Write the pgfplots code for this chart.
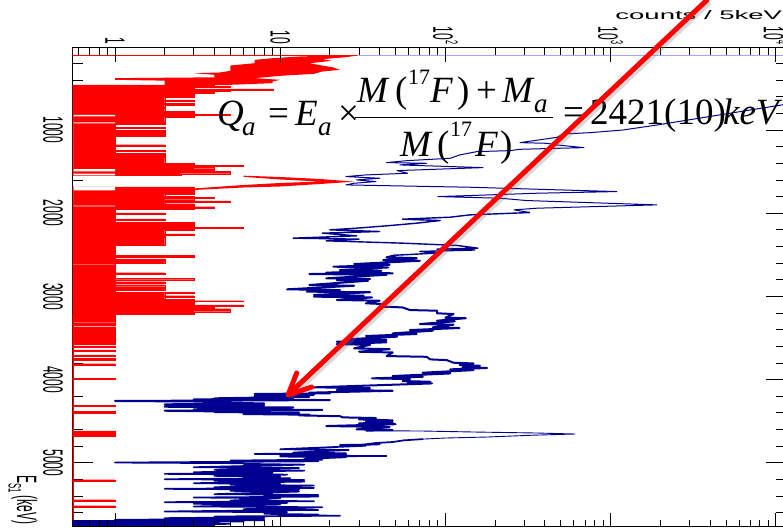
\documentclass[border=0pt]{standalone}
\usepackage{fontspec}
\usepackage{pgfplots}
\pgfplotsset{compat=1.18}
\setmainfont{Liberation Sans}
\newfontfamily\tm{Liberation Serif}
\definecolor{spb}{RGB}{0,0,145}
\newcommand{\tl}{\fontsize{28}{28}\selectfont}
\begin{document}
\begin{tikzpicture}[x=1pt,y=1pt]
\path[use as bounding box] (0,0) rectangle (783,528);
\clip (0,0) rectangle (783,528);
% frame and energy ticks
\begin{axis}[scale only axis,width=714.5pt,height=479pt,at={(72.5pt,1.3pt)},anchor=south west,
  xmode=log,xmin=0.553,xmax=11695,ymin=11,ymax=5768,y dir=reverse,
  xtick=\empty,ytick={1000,2000,3000,4000,5000},
  minor ytick={200,400,600,800,1200,1400,1600,1800,2200,2400,2600,2800,3200,3400,3600,3800,4200,4400,4600,4800,5200,5400,5600},
  major tick length=21pt,minor tick length=11pt,tick align=inside,ytick pos=both,yticklabel pos=left,
  axis line style={line width=1pt,black},tick style={black,line width=0.8pt},
  yticklabel style={xshift=-19.5pt,rotate=-90,xscale=0.43,anchor=center,font=\tl,/pgf/number format/1000 sep={},/pgf/number format/assume math mode=true}]
\end{axis}
\begin{axis}[scale only axis,width=714.5pt,height=479pt,at={(72.5pt,1.3pt)},anchor=south west,
  xmode=log,xmin=0.553,xmax=11695,ymin=11,ymax=5768,y dir=reverse,
  axis y line=none,axis x line=box,clip=true,
  xtick={1,10,100,1000,10000},xticklabels={1,10,10\raisebox{.45em}{\fontsize{17}{17}\selectfont 2},10\raisebox{.45em}{\fontsize{17}{17}\selectfont 3},10\raisebox{.45em}{\fontsize{17}{17}\selectfont 4}},
  minor xtick={.6,.7,.8,.9,2,3,4,5,6,7,8,9,20,30,40,50,60,70,80,90,200,300,400,500,600,700,800,900,2000,3000,4000,5000,6000,7000,8000,9000},
  major tick length=14pt,minor tick length=7pt,tick align=inside,xtick pos=both,xticklabel pos=right,
  axis line style={line width=1pt,black},tick style={black,line width=0.9pt},axis on top,
  xticklabel style={yshift=2pt,rotate=-90,xscale=0.43,anchor=east,font=\tl}]
% overflow line at the first bin
\addplot[color=blue!35!white,line width=0.8pt] coordinates {(29,105) (12000,105)};
% spectrum without gate (blue)
\addplot[color=spb,line width=1pt,line join=round] coordinates {
(12000,685)(1910,940)(1189,1000)(753,1032)(518,1048)(474,1088)(283,1152)(412,1160)(474,1180)(690,1212)(283,1232)(246,1248)(155,1260)(122,1300)(107,1340)(59,1368)(44,1392)(77,1400)(53,1420)(169,1452)(67,1480)(51,1488)(59,1520)(33,1540)(25,1560)(40,1580)(29,1600)(38,1620)(28,1640)(25,1660)(52,1672)(141,1688)(359,1712)(1090,1740)(359,1760)(141,1788)(90,1800)(214,1820)(311,1848)(720,1872)(1900,1900)(359,1940)(260,1960)(325,1992)};
\addplot[color=spb,line width=1.4pt,line join=round] coordinates {
(325,1992)(141,2020)(107,2048)(55,2072)(93,2088)(67,2120)(44,2152)(29,2180)(20,2200)(40,2220)(18,2240)(29,2272)(12,2300)(30,2312)(19,2332)(55,2360)(118,2388)(157,2420)(89,2432)(151,2442)(70,2460)(89,2479)(50,2505)};
\addplot[color=spb,line width=2pt,line join=round] coordinates {
(50,2505)(44,2530)(67,2540)(42,2563)(70,2572)(28,2611)(46,2620)(21,2643)(45,2652)(23,2683)(41,2692)(19,2715)(48,2722)(15,2731)(44,2740)(19,2783)(35,2790)(22,2803)(34,2812)(15,2863)(28,2872)(11,2915)(23,2924)(14.5,2943)(35,2950)(16,2983)(32,2992)(16,3003)(36,3012)(22,3043)(40,3052)(33,3083)(42,3092)(40,3123)(55,3132)(61,3164)(89,3172)(89,3203)(112,3212)(100,3256)(133,3262)(89,3292)(114,3300)(70,3332)(112,3340)(84,3372)(122,3380)(61,3404)(84,3412)(48,3444)(67,3452)(33,3476)(51,3484)(25,3516)(44,3524)(22,3545)(44,3552)(22,3573)(35,3582)(28,3625)(46,3634)(30,3665)(48,3674)(44,3717)(77,3726)(81,3757)(102,3766)(112,3797)(148,3806)(122,3825)(162,3834)(127,3853)(179,3860)(107,3877)(148,3886)(73,3917)(107,3926)(48,3957)(73,3966)(36,3985)(61,3994)(55,4017)(81,4026)(59,4037)(83,4046)(16,4093)(35,4102)(22,4125)(48,4134)(15,4157)(20,4165)
(7,4173)(16,4182)(7,4197)(15,4206)(4,4225)(12,4232)(3,4237)(20,4246)(1,4257)(5,4266)(5,4278)(8,4287)(2,4297)(8,4306)(2,4326)(12,4335)(3,4357)(18,4365)(2,4374)(4,4382)(4,4390)(13,4398)(6,4414)(15,4422)(13,4430)(23,4440)(24,4454)(38,4462)(30,4478)(48,4490)(33,4506)(48,4515)(30,4526)(50,4536)(19,4558)(46,4570)(29,4598)(48,4606)(33,4614)};
\addplot[color=spb,line width=0.9pt,line join=round] coordinates {
(33,4614)(73,4618)(150,4630)(360,4642)(609,4654)(340,4668)(179,4690)(100,4702)(73,4715)};
\addplot[color=spb,line width=1.7pt,line join=round] coordinates {
(73,4715)(56,4730)(48,4750)(38,4762)(30,4787)(40,4778)(23,4785)(33,4795)(10,4837)(26,4846)(12,4877)(25,4885)(7,4893)(25,4900)(10,4913)(44,4918)(10,4925)(25,4933)(14,4953)(18,4962)(5,4973)(17,4982)(1,4997)(6,5005)(6,5013)(14,5022)(3,5053)(13,5062)(4,5085)(14,5094)(3,5113)(9,5122)(2,5133)(11,5142)(4,5157)(10,5166)(6,5177)(11.5,5186)(2,5197)(14,5206)(4,5217)(14,5226)(3,5245)(10,5254)(5,5265)(16,5274)(4,5293)(16,5302)(2,5313)(13,5322)(5,5337)(13,5346)(4,5377)(17,5386)(8,5397)(17,5406)(3,5417)(10,5426)(5,5453)(16,5462)(2,5473)(11,5482)(3,5493)(10,5502)(3,5525)(18,5534)(6,5557)(17,5566)(2,5585)(11,5594)(8,5613)(17,5622)(10,5629)(23,5636)(4,5645)(8,5654)(2,5665)(8,5674)(1,5685)(8,5690)(0.5,5700)(6,5706)(0.5,5715)(4,5720)(0.5,5728)(5,5734)(0.5,5742)(4,5748)(0.5,5756)(4,5762)(0.5,5770)(4,5772)
};
% gated spectrum (red): upper flank
\addplot[red,fill=red,draw=none] coordinates {
(29.5,105)(25,125)(18,149)(20.5,169)(16.6,189)(15,197)(17,217)(21,249)(23,277)(18,297)(16,325)(10,349)(7,377)(10,397)(9,417)(9,437)(5,457)(2,457)(2,417)(2,407)(1,397)(1,377)(4,367)(4,337)(3,317)(4.3,309)(5,289)(5,257)(5,225)(7,197)(7,157)(9,137)(13,117)(20,105)};
% main body of the gated spectrum, as a staircase from the left edge
\addplot[red,fill=red,draw=red,line width=0.2pt] coordinates {
(0.5,457)(4,457)(4,469)(5,469)(5,485)(3,485)(3,505)(9,505)(9,517)(5,517)(5,529)(4,529)(4,557)(3,557)(3,609)(2,609)(2,637)(3,637)(3,657)(2,657)(2,677)(3,677)(3,697)(2,697)(2,729)(1,729)(1,741)(2,741)(2,777)(3,777)(3,809)(5,809)(5,825)(3,825)(3,845)(2,845)(2,901)(1,901)(1,913)(2,913)(2,925)(1,925)(1,957)(0.5,957)(0.5,969)(2,969)(2,981)(1,981)(1,1005)(2,1005)(2,1017)(1,1017)(1,1025)(2,1025)(2,1037)(1,1037)(1,1049)(2,1049)(2,1057)(1,1057)(1,1065)(2,1065)(2,1077)(1,1077)(1,1149)(0.5,1149)(0.5,1161)(1,1161)(1,1177)(2,1177)(2,1189)(1,1189)(1,1241)(2,1241)(2,1253)(1,1253)(1,1281)(2,1281)(2,1293)(1,1293)(1,1305)(2,1305)(2,1317)(1,1317)(1,1329)(2,1329)(2,1397)(3,1397)(3,1425)(6,1425)(6,1437)(4,1437)(4,1465)(3,1465)(3,1477)(4,1477)(4,1497)(5,1497)(5,1525)(2.5,1525)(2.5,1545)(0.5,1545)
(0.5,1685)(3,1685)(3,1769)(2,1769)(2,1797)(3,1797)(3,1809)(4,1809)(4,1821)(3,1821)(3,1837)(2,1837)(2,1845)(3,1845)(3,1853)(5,1853)(5,1869)(2,1869)(2,1885)(3,1885)(3,1921)(4,1921)(4,1933)(3,1933)(3,1949)(1,1949)(1,1997)(2,1997)(2,2009)(1,2009)(1,2069)(2,2069)(2,2081)(1,2081)(1,2109)(3,2109)(3,2169)(6,2169)(6,2181)(3,2181)(3,2205)(2,2205)(2,2249)(3,2249)(3,2269)(2,2269)(2,2277)(1,2277)(1,2285)(2,2285)(2,2389)(1,2389)(1,2509)(3,2509)(3,2525)(1,2525)(1,2549)(2,2549)(2,2561)(1,2561)(1,2581)(2,2581)(2,2597)(1,2597)(1,2619)(0.5,2619)(0.5,2631)(1,2631)(1,2715)(2,2715)(2,2731)(1,2731)(1,2783)(3,2783)(3,2799)(1,2799)(1,2823)(2,2823)(2,2843)(1,2843)(1,2859)(2,2859)(2,2883)(1,2883)(1,2891)(0.5,2891)(0.5,2903)(2,2903)(2,2923)(1,2923)(1,2951)(3,2951)(3,2963)(2,2963)(2,2991)(3,2991)(3,3007)(2,3007)(2,3035)(3,3035)(3,3051)(6,3051)(6,3059)(3,3059)(3,3103)(6,3103)(6,3115)(4,3115)(4,3147)(5,3147)(5,3183)(3,3183)(3,3215)(1,3215)(1,3235)
(0.5,3235)(1,3235)(1,3251)(0.5,3251)(0.5,3263)(1,3263)(1,3283)(0.5,3283)(0.5,3291)(1,3291)(1,3315)(0.5,3315)(0.5,3331)(1,3331)(1,3347)(0.5,3347)(0.5,3363)(1,3363)(1,3375)(0.5,3375)(0.5,3391)(1,3391)(1,3411)(0.5,3411)(0.5,3423)(1,3423)(1,3443)(0.5,3443)(0.5,3451)(1,3451)(1,3491)(0.5,3491)(0.5,3507)(1,3507)(1,3523)(0.5,3523)(0.5,3535)(1,3535)(1,3555)(0.5,3555)(0.5,3563)(1,3563)(1,3579)(0.5,3579)(0.5,3595)(1,3595)(1,3611)(0.5,3611)(0.5,3643)(1,3643)(1,3663)(0.5,3663)(0.5,3703)(1,3703)(1,3723)(0.5,3723)(0.5,3743)(1,3743)(1,3763)(0.5,3763)(0.5,3808)(1,3808)(1,3822)(0.5,3822)(0.5,3983)(1,3983)(1,3995)(0.5,3995)
(0.5,4307)(1,4307)(1,4323)(0.5,4323)(0.5,4383)(1,4383)(1,4399)(0.5,4399)(0.5,4615)(1,4615)(1,4631)(0.5,4631)(0.5,4643)(1,4643)(1,4659)(0.5,4659)(0.5,4671)(1,4671)(1,4683)(0.5,4683)(0.5,5203)(1,5203)(1,5223)(0.5,5223)(0.5,5443)(1,5443)(1,5455)(0.5,5455)(0.5,5515)(1,5515)(1,5527)(0.5,5527)};
% narrow peak of the gated spectrum
\addplot[red,fill=red,draw=none] coordinates {
(6,1549)(10,1565)(17.5,1589)(28,1621)(17.5,1649)(10,1679)(6,1691)(3,1721)(3,1703)(6,1661)(10,1637)(17.5,1619)(10,1595)(6,1563)};
% rows where the trace stays between 1 and its peak
\addplot[white,fill=white,draw=none] coordinates {
(0.562,817)(1,817)(1,837)(0.562,837)(0.562,909)(1,909)(1,921)(0.562,921)(0.562,1469)(1,1469)(1,1497)(0.562,1497)(0.562,1525)(1,1525)(1,1545)(0.562,1545)(0.562,1685)(1,1685)(1,1725)(0.562,1725)(0.562,1909)(1,1909)(1,1917)(0.562,1917)};
% lower part of left edge and top corner
\addplot[red,line width=2pt] coordinates {(0.553,3200)(0.553,5690)};
\addplot[red,line width=1pt] coordinates {(0.553,11)(0.553,105)(29,105)};
\end{axis}
% labels
\node[anchor=west,inner sep=0,xscale=2.2,font=\fontsize{12.5}{12.5}\selectfont] at (615,513) {counts / 5keV};
\node[anchor=west,inner sep=0,rotate=-90,xscale=0.43,font=\tl] at (23,53) {E\raisebox{-.3em}{\fontsize{18}{18}\selectfont S1} (keV)};
% equation
\tikzset{f/.style={anchor=base west,inner sep=0,font=\tm\fontsize{37}{37}\selectfont},s/.style={anchor=base west,inner sep=0,font=\tm\fontsize{22}{22}\selectfont},u/.style={anchor=base west,inner sep=0,font=\tm\fontsize{27}{27}\selectfont}}
\node[f] at (217,402.3) {\itshape Q};
\node[u] at (242,392) {\itshape a};
\node[f] at (268,402.3) {=};
\node[f] at (295,402.3) {\itshape E};
\node[u] at (318,392) {\itshape a};
\node[f] at (338,402.3) {×};
\draw[line width=1pt] (355,410.5) -- (552.7,410.5);
\node[f] at (357,425) {\itshape M};
\node[f] at (395,425) {(};
\node[s] at (408,443) {17};
\node[f] at (430,425) {\itshape F};
\node[f] at (457,425) {)};
\node[f] at (476,425) {+};
\node[f] at (502,425) {\itshape M};
\node[u] at (534,415) {\itshape a};
\node[f] at (400,371) {\itshape M};
\node[f] at (437,371) {(};
\node[s] at (450,391) {17};
\node[f] at (475,371) {\itshape F};
\node[f] at (500,371) {)};
\node[f] at (563,403) {=};
\node[f] at (590,403) {2421(10)};
\node[f] at (723,403) {\itshape keV};
% arrow
\begin{scope}[xshift=2.5pt,yshift=-2.5pt,opacity=0.3]
\draw[gray,line width=5pt] (707,528) -- (288,133);
\end{scope}
\draw[red,line width=5pt,line cap=round] (707,528) -- (290,135);
\draw[red,line width=5pt,line cap=round,line join=round] (296.7,155) -- (288,133) -- (311.7,141);
\end{tikzpicture}
\end{document}
